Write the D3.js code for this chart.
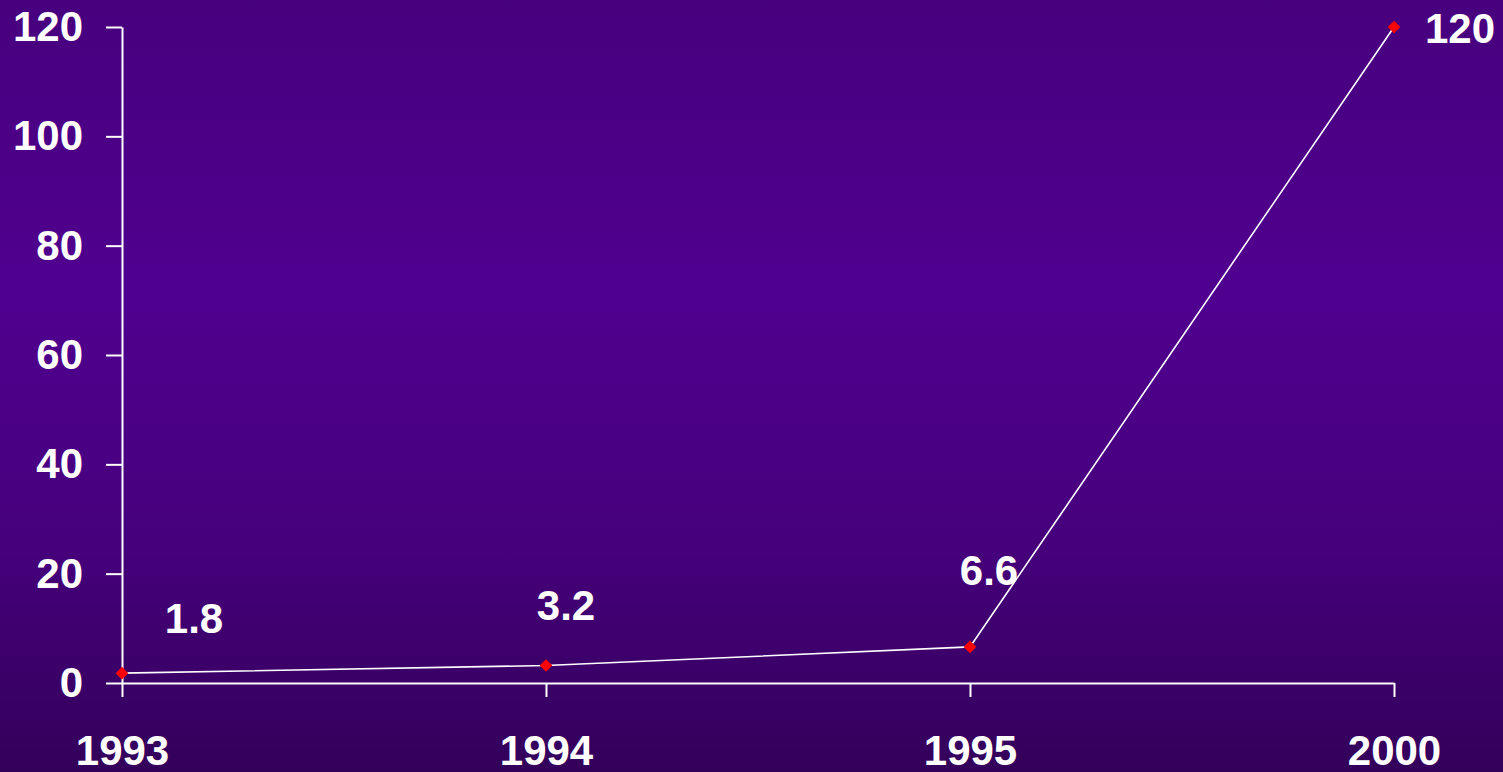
<!DOCTYPE html>
<html>
<head>
<meta charset="utf-8">
<script src="https://cdn.jsdelivr.net/npm/d3@7"></script>
<style>
  html, body { margin: 0; padding: 0; background: #45007c; }
  svg { display: block; }
  .axis text { font-family: "Liberation Sans", Arial, sans-serif; font-weight: bold; font-size: 42px; fill: #fff; }
</style>
</head>
<body>
<div class="plot"></div>
<script>
const years = ["1993", "1994", "1995", "2000"];
const values = [1.8, 3.2, 6.6, 120];
const valueLabels = ["1.8", "3.2", "6.6", "120"];
const yTicks = [0, 20, 40, 60, 80, 100, 120];

// label nudges (px) relative to each point, as placed in the original slide
const labelNudge = [[72, -40], [20, -46], [19, -62], [66, 16]];

const width = 1503;
const height = 772;

const svg = d3
    .select(".plot")
    .append("svg")
    .attr("width", width)
    .attr("height", height);

const defs = svg.append("defs");
const grad = defs
    .append("linearGradient")
    .attr("id", "bg")
    .attr("x1", 0).attr("y1", 0)
    .attr("x2", 0).attr("y2", 1);
grad.append("stop").attr("offset", "0%").attr("stop-color", "#47007e");
grad.append("stop").attr("offset", "38%").attr("stop-color", "#50008f");
grad.append("stop").attr("offset", "70%").attr("stop-color", "#46007c");
grad.append("stop").attr("offset", "100%").attr("stop-color", "#33005a");

svg.append("rect")
    .attr("width", width)
    .attr("height", height)
    .attr("fill", "url(#bg)");

const xScale = d3
    .scalePoint()
    .domain(years)
    .range([122, 1394]);

const yScale = d3
    .scaleLinear()
    .domain([0, 120])
    .range([683, 27]);

const yAxis = svg
    .append("g")
    .attr("class", "axis")
    .attr("transform", "translate(122, 0)")
    .call(d3.axisLeft(yScale).tickValues(yTicks).tickSize(16).tickSizeOuter(0).tickPadding(23));

const xAxis = svg
    .append("g")
    .attr("class", "axis")
    .attr("transform", "translate(0, 683)")
    .call(d3.axisBottom(xScale).tickSize(14).tickSizeOuter(0).tickPadding(38));

svg.selectAll(".axis path, .axis line")
    .attr("stroke", "#fff")
    .attr("stroke-width", 2);

const line = d3
    .line()
    .x((d, i) => xScale(years[i]))
    .y((d) => yScale(d));

svg.append("path")
    .datum(values)
    .attr("d", line)
    .attr("fill", "none")
    .attr("stroke", "#fff")
    .attr("stroke-width", 1.6);

svg.selectAll(".dot")
    .data(values)
    .join("path")
    .attr("class", "dot")
    .attr("d", d3.symbol().type(d3.symbolSquare).size(80))
    .attr("transform", (d, i) => `translate(${xScale(years[i])}, ${yScale(d)}) rotate(45)`)
    .attr("fill", "#ff0000");

svg.selectAll(".val")
    .data(values)
    .join("text")
    .attr("class", "val")
    .attr("x", (d, i) => xScale(years[i]) + labelNudge[i][0])
    .attr("y", (d, i) => yScale(d) + labelNudge[i][1])
    .attr("text-anchor", "middle")
    .style("font-family", "'Liberation Sans', Arial, sans-serif")
    .style("font-weight", "bold")
    .style("font-size", "42px")
    .style("fill", "#fff")
    .text((d, i) => valueLabels[i]);
</script>
</body>
</html>
